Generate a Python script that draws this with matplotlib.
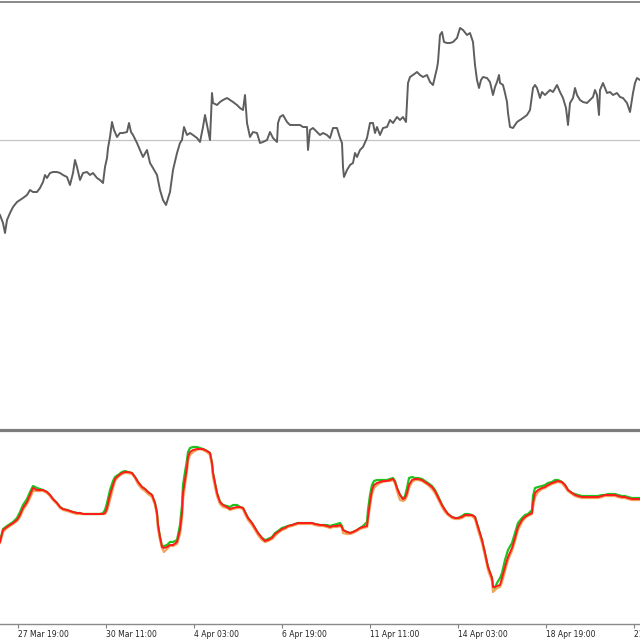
import matplotlib
matplotlib.use("Agg")
import matplotlib.pyplot as plt

# price line (x in chart units, y in panel units, top = 2, bottom = 428)
t_price = [0, 3, 5, 7, 10, 13, 17, 20, 23, 27, 30, 33, 37, 40, 43, 45, 47, 50, 53, 57,
           60, 63, 67, 70, 73, 75, 77, 80, 83, 87, 90, 93, 97, 100, 103, 105, 107, 108, 110, 112,
           114, 117, 120, 123, 127, 129, 131, 133, 137, 140, 143, 147, 150, 153, 157, 160, 163, 166, 170, 173,
           177, 180, 182, 184, 187, 190, 193, 197, 200, 203, 205, 207, 210, 212, 213, 217, 220, 223, 227, 230,
           233, 237, 240, 243, 245, 247, 250, 253, 257, 260, 263, 267, 270, 273, 277, 278, 280, 283, 287, 290,
           293, 297, 300, 303, 307, 308, 310, 313, 317, 320, 323, 327, 330, 333, 337, 340, 342, 343, 344, 347,
           350, 353, 355, 357, 360, 363, 367, 370, 373, 375, 377, 380, 383, 387, 390, 393, 397, 400, 403, 406,
           408, 410, 413, 417, 420, 423, 427, 430, 433, 437, 438, 440, 442, 444, 447, 450, 453, 457, 460, 463,
           467, 470, 473, 474, 475, 477, 479, 481, 483, 487, 490, 493, 495, 497, 499, 500, 503, 505, 507, 508,
           510, 513, 517, 520, 523, 527, 530, 533, 535, 537, 540, 542, 545, 547, 550, 553, 557, 560, 563, 566,
           568, 570, 573, 575, 577, 580, 583, 587, 590, 593, 595, 597, 599, 600, 603, 607, 610, 613, 617, 620,
           623, 627, 630, 633, 635, 637, 640]
price = [215, 223, 233, 220, 213, 207, 202, 200, 198, 195, 190, 192, 192, 188, 182, 175, 178, 173, 172, 172,
         173, 175, 177, 185, 173, 160, 167, 180, 173, 172, 175, 173, 178, 180, 183, 167, 158, 148, 137, 122,
         130, 137, 133, 133, 132, 123, 132, 135, 143, 150, 157, 150, 163, 168, 175, 190, 200, 205, 192, 170,
         153, 143, 140, 127, 135, 133, 135, 138, 142, 127, 115, 125, 140, 93, 103, 105, 102, 100, 98, 100,
         102, 105, 108, 110, 95, 123, 137, 132, 133, 143, 142, 140, 132, 138, 142, 123, 117, 115, 122, 125,
         125, 125, 125, 127, 127, 150, 130, 128, 132, 135, 133, 135, 138, 128, 128, 138, 143, 167, 177, 170,
         165, 163, 153, 157, 150, 147, 138, 123, 123, 133, 127, 135, 128, 127, 120, 123, 117, 120, 117, 122,
         83, 77, 75, 72, 75, 77, 75, 82, 85, 68, 62, 35, 32, 42, 43, 43, 42, 38, 28, 30,
         35, 33, 42, 53, 65, 80, 88, 80, 77, 78, 82, 95, 87, 82, 75, 83, 85, 93, 102, 113,
         127, 128, 122, 120, 118, 115, 110, 88, 85, 88, 98, 92, 95, 93, 90, 92, 85, 92, 98, 108,
         125, 103, 98, 88, 95, 100, 102, 103, 100, 97, 90, 95, 115, 90, 83, 93, 92, 95, 93, 97,
         98, 103, 112, 93, 83, 78, 80]
price_level = 140

# indicator panel (top = 429.5, bottom = 624)
t_ind = [0, 3, 7, 10, 13, 17, 20, 23, 27, 30, 33, 37, 40, 43, 47, 50, 53, 57, 60, 63,
         67, 70, 73, 77, 80, 83, 87, 90, 93, 97, 100, 103, 105, 107, 110, 113, 115, 118, 122, 125,
         128, 132, 135, 138, 142, 145, 148, 152, 155, 157, 158, 160, 162, 164, 167, 170, 173, 177, 180, 182,
         183, 185, 187, 188, 190, 193, 197, 200, 203, 207, 210, 212, 213, 215, 217, 220, 223, 227, 230, 233,
         237, 240, 243, 245, 248, 252, 255, 258, 262, 265, 268, 272, 275, 278, 282, 285, 288, 292, 295, 298,
         302, 305, 308, 312, 315, 320, 323, 327, 330, 333, 337, 340, 342, 343, 347, 350, 353, 357, 360, 363,
         367, 368, 370, 372, 374, 377, 380, 383, 387, 390, 393, 395, 397, 400, 403, 405, 407, 409, 412, 415,
         418, 422, 425, 428, 432, 435, 438, 442, 445, 448, 452, 455, 458, 462, 465, 468, 472, 475, 478, 482,
         485, 488, 492, 493, 495, 497, 500, 502, 505, 508, 512, 515, 518, 522, 525, 528, 532, 533, 535, 538,
         542, 545, 548, 552, 555, 558, 562, 565, 568, 572, 575, 578, 582, 585, 588, 592, 595, 598, 602, 605,
         608, 612, 615, 618, 622, 625, 628, 632, 635, 640]
red = [542, 530, 527, 525, 523, 520, 515, 508, 502, 495, 488, 490, 490, 490, 492, 495, 499, 503, 507, 509,
       510, 511, 512, 513, 513, 514, 514, 514, 514, 514, 514, 514, 513, 508, 495, 485, 479, 476, 473, 472,
       472, 473, 477, 482, 487, 489, 492, 495, 503, 513, 525, 537, 547, 548, 547, 545, 545, 542, 530, 513,
       493, 480, 467, 457, 452, 450, 449, 449, 449, 451, 453, 463, 473, 483, 493, 502, 505, 507, 509, 508,
       507, 507, 508, 512, 518, 523, 528, 533, 538, 541, 540, 538, 534, 532, 529, 528, 526, 525, 524, 523,
       523, 523, 523, 523, 524, 525, 525, 526, 527, 526, 526, 525, 527, 530, 532, 533, 532, 530, 528, 527,
       526, 517, 502, 490, 485, 483, 482, 481, 481, 480, 479, 482, 488, 495, 499, 498, 493, 485, 480, 479,
       479, 480, 482, 484, 487, 491, 497, 505, 510, 514, 517, 518, 518, 517, 515, 515, 515, 517, 527, 540,
       553, 567, 578, 587, 587, 586, 585, 578, 567, 557, 548, 538, 527, 520, 517, 515, 513, 503, 493, 490,
       488, 487, 485, 483, 482, 481, 482, 485, 490, 493, 495, 496, 497, 497, 497, 497, 497, 497, 496, 495,
       495, 495, 495, 496, 497, 497, 498, 499, 499, 499]
green = [541, 529, 526, 524, 522, 518, 512, 505, 499, 492, 486, 488, 489, 490, 492, 495, 499, 503, 507, 509,
         510, 511, 512, 513, 513, 514, 514, 514, 514, 514, 514, 513, 510, 503, 490, 481, 477, 475, 472, 471,
         472, 473, 477, 482, 487, 489, 492, 495, 503, 513, 525, 537, 546, 546, 545, 542, 542, 540, 525, 505,
         485, 472, 460, 452, 448, 447, 447, 448, 449, 451, 453, 463, 473, 483, 493, 502, 505, 506, 507, 505,
         505, 507, 508, 512, 518, 523, 528, 533, 538, 540, 539, 537, 533, 531, 528, 527, 526, 525, 524, 523,
         523, 523, 523, 523, 524, 525, 525, 525, 526, 525, 524, 523, 526, 530, 532, 533, 532, 530, 528, 526,
         522, 510, 495, 485, 481, 480, 480, 480, 480, 479, 478, 481, 488, 495, 499, 496, 488, 478, 477, 478,
         478, 479, 481, 483, 486, 490, 496, 505, 510, 514, 517, 518, 518, 516, 514, 514, 515, 517, 527, 540,
         553, 567, 578, 586, 588, 583, 578, 573, 560, 550, 543, 533, 523, 518, 515, 514, 510, 496, 488, 487,
         486, 485, 483, 482, 480, 480, 482, 485, 490, 493, 494, 495, 496, 496, 496, 496, 496, 496, 495, 495,
         494, 494, 494, 495, 496, 496, 497, 498, 498, 498]
orange = [543, 532, 528, 526, 524, 521, 517, 510, 504, 498, 491, 491, 491, 491, 493, 496, 500, 504, 508, 510,
          511, 512, 513, 514, 514, 514, 514, 514, 514, 514, 514, 514, 514, 511, 500, 488, 481, 477, 474, 473,
          473, 474, 478, 484, 489, 491, 494, 497, 505, 516, 529, 540, 548, 552, 549, 546, 546, 544, 534, 518,
          500, 485, 471, 461, 455, 452, 450, 449, 450, 452, 455, 466, 477, 487, 496, 504, 507, 508, 510, 509,
          508, 508, 509, 514, 520, 525, 530, 535, 540, 542, 541, 539, 536, 533, 530, 529, 527, 526, 525, 524,
          524, 524, 524, 524, 525, 526, 526, 527, 528, 527, 527, 526, 528, 533, 534, 534, 533, 531, 529, 528,
          527, 521, 506, 494, 488, 485, 483, 482, 481, 481, 480, 483, 491, 500, 501, 500, 496, 488, 482, 480,
          480, 481, 483, 485, 489, 493, 499, 507, 512, 515, 518, 519, 519, 518, 516, 516, 516, 519, 530, 543,
          556, 570, 581, 592, 590, 588, 587, 582, 571, 560, 551, 541, 530, 522, 518, 516, 514, 507, 497, 492,
          489, 488, 486, 484, 483, 482, 483, 487, 491, 494, 496, 497, 498, 498, 498, 498, 498, 498, 497, 496,
          496, 496, 496, 497, 498, 498, 499, 500, 500, 500]

tick_pos = [18, 106, 194, 282, 370, 458, 546, 634]
tick_labels = ['27 Mar 19:00', '30 Mar 11:00', '4 Apr 03:00', '6 Apr 19:00',
               '11 Apr 11:00', '14 Apr 03:00', '18 Apr 19:00', '21 Apr 11:00']

fig = plt.figure(figsize=(6.4, 6.4), dpi=100)

# price panel
ax1 = fig.add_axes([0, (640 - 428) / 640, 1, (428 - 2) / 640])
ax1.axhline(price_level, color='#c4c4c4', lw=0.9, zorder=1)
ax1.plot(t_price, price, color='#5e5e5e', lw=1.4, zorder=2)
ax1.set_xlim(0, 640)
ax1.set_ylim(428, 2)
ax1.set_xticks([])
ax1.set_yticks([])
for s in ['left', 'right', 'bottom']:
    ax1.spines[s].set_visible(False)
ax1.spines['top'].set_color('#808080')
ax1.spines['top'].set_linewidth(1.3)

# indicator panel
ax2 = fig.add_axes([0, (640 - 624) / 640, 1, (624 - 429.5) / 640])
ax2.plot(t_ind, green, color='#1fc21f', lw=1.6)
ax2.plot(t_ind, orange, color='#f2a35a', lw=1.6)
ax2.plot(t_ind, red, color='#ff1a1a', lw=1.4)
ax2.set_xlim(0, 640)
ax2.set_ylim(624, 429.5)
ax2.set_yticks([])
for s in ['left', 'right']:
    ax2.spines[s].set_visible(False)
ax2.spines['top'].set_color('#7c7c7c')
ax2.spines['top'].set_linewidth(2.3)
ax2.spines['bottom'].set_color('#8a8a8a')
ax2.spines['bottom'].set_linewidth(1.0)
ax2.set_xticks(tick_pos, tick_labels)
ax2.tick_params(axis='x', direction='out', length=3, width=0.8, color='#808080',
                pad=1.5, labelsize=5.5, labelcolor='#222222')
for lbl in ax2.get_xticklabels():
    lbl.set_horizontalalignment('left')

fig.savefig('out.png', dpi=100)
